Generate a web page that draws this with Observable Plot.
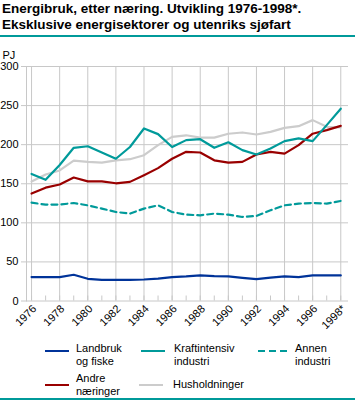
<!DOCTYPE html>
<html>
<head>
<meta charset="utf-8">
<script src="https://cdn.jsdelivr.net/npm/d3@7"></script>
<script src="https://cdn.jsdelivr.net/npm/@observablehq/plot@0.6"></script>
<style>
  html, body { margin: 0; padding: 0; background: #fff; }
  body { width: 355px; height: 403px; position: relative; overflow: hidden; font-family: "Liberation Sans", Arial, sans-serif; }
  #title { position: absolute; left: 2px; top: 1px; font-weight: bold; font-size: 13.5px; line-height: 16px; color: #000; white-space: nowrap; }
  #rule1 { position: absolute; left: 0; top: 35px; width: 355px; height: 2px; background: #009a9a; }
  #chart { position: absolute; left: 0; top: 38px; }
  #legend { position: absolute; left: 0; top: 338px; width: 355px; height: 60px; font-size: 11px; line-height: 13px; color: #000; }
  .sw { position: absolute; height: 0; width: 24px; }
  .lb { position: absolute; }
  #rule2 { position: absolute; left: 0; top: 398px; width: 355px; height: 2px; background: #009a9a; }
</style>
</head>
<body>
<div id="title"></div>
<div id="rule1"></div>
<div id="chart"></div>
<div id="legend"></div>
<div id="rule2"></div>
<script>
const titleLines = ["Energibruk, etter næring. Utvikling 1976-1998*.", "Eksklusive energisektorer og utenriks sjøfart"];
const unitLabel = "PJ";
const years = [1976,1977,1978,1979,1980,1981,1982,1983,1984,1985,1986,1987,1988,1989,1990,1991,1992,1993,1994,1995,1996,1997,1998];
const xTicks = [1976,1978,1980,1982,1984,1986,1988,1990,1992,1994,1996,1998];
const xTickLabels = ["1976","1978","1980","1982","1984","1986","1988","1990","1992","1994","1996","1998*"];
const yTicks = [0,50,100,150,200,250,300];

const seriesNames = ["Landbruk og fiske", "Kraftintensiv industri", "Annen industri", "Andre næringer", "Husholdninger"];
const landbruk = [30.6,30.6,30.6,33.6,28.4,27.1,27.1,27,27.5,28.7,30.6,31.4,32.7,31.8,31.4,29.7,28,30,31.4,30.6,32.7,32.7,32.7];
const kraftintensiv = [162.6,155,174,196,198,190,182,197,220.7,213.5,197,205.8,207,196,203,193,187.4,195,204.5,208,204.5,225,246];
const annenIndustri = [125.8,123.3,123.3,125.4,122.4,118.2,113.9,111.8,118.2,122.4,113.9,110.5,109.6,111.8,110.5,107.5,108.8,116,122.4,124.6,125.4,124.6,128];
const andreNaeringer = [137.4,145,149,158,153,153,150.6,152.4,161,170,182,190.8,190,180,177,178,187.4,190.8,188.6,199.4,214,218.6,224];
const husholdninger = [153,161.8,167,179.7,178,177,180,181.4,186.5,199.4,210,212,209,209,214,215.6,213,216.4,221.5,223.7,231.4,222.8,222];

const colors = {blue: "#003399", teal: "#009a9a", red: "#990000", gray: "#cccccc", grid: "#c8c8c8"};

document.getElementById("title").innerHTML = titleLines.join("<br>");

const mk = (vals, name) => years.map((y, i) => ({year: y, value: vals[i], series: name}));
const dLand = mk(landbruk, seriesNames[0]);
const dKraft = mk(kraftintensiv, seriesNames[1]);
const dAnnen = mk(annenIndustri, seriesNames[2]);
const dAndre = mk(andreNaeringer, seriesNames[3]);
const dHus = mk(husholdninger, seriesNames[4]);

const chart = Plot.plot({
  width: 355,
  height: 302,
  marginLeft: 26,
  marginRight: 7,
  marginTop: 28,
  marginBottom: 39.5,
  style: {fontFamily: "'Liberation Sans', Arial, sans-serif", fontSize: "11px", color: "#000", background: "transparent"},
  x: {domain: [1975.64, 1998.55], type: "linear"},
  y: {domain: [0, 300]},
  marks: [
    Plot.ruleY(yTicks, {stroke: colors.grid, strokeOpacity: 1, strokeWidth: 1}),
    Plot.ruleX(xTicks, {y1: 0, y2: 300, stroke: colors.grid, strokeOpacity: 1}),
    Plot.frame({anchor: "left", stroke: colors.grid, strokeOpacity: 1}),
    Plot.axisY({ticks: yTicks, tickSize: 5, tickPadding: 3, stroke: colors.grid, strokeOpacity: 1, label: null, fontSize: 11}),
    Plot.axisX({ticks: years, tickSize: -5, text: null, stroke: colors.grid, strokeOpacity: 1, label: null}),
    Plot.axisX({ticks: xTicks, tickSize: 0, tickPadding: 6, tickRotate: -45, dx: 3,
      tickFormat: d => xTickLabels[xTicks.indexOf(d)], label: null, fontSize: 11}),
    Plot.text([unitLabel], {frameAnchor: "top-left", dx: -24, dy: -15, textAnchor: "start", fontSize: 11}),
    Plot.line(dHus, {x: "year", y: "value", stroke: colors.gray, strokeWidth: 2.2}),
    Plot.line(dLand, {x: "year", y: "value", stroke: colors.blue, strokeWidth: 2.2}),
    Plot.line(dAnnen, {x: "year", y: "value", stroke: colors.teal, strokeWidth: 2.2, strokeDasharray: "6,4"}),
    Plot.line(dAndre, {x: "year", y: "value", stroke: colors.red, strokeWidth: 2.2}),
    Plot.line(dKraft, {x: "year", y: "value", stroke: colors.teal, strokeWidth: 2.2})
  ]
});
document.getElementById("chart").appendChild(chart);

// Legend
const legendItems = [
  {name: seriesNames[0], color: colors.blue, dash: false, swx: 45, swy: 13, tx: 76, ty: 4, w: 60},
  {name: seriesNames[1], color: colors.teal, dash: false, swx: 141, swy: 13, tx: 174, ty: 4, w: 75},
  {name: seriesNames[2], color: colors.teal, dash: true, swx: 258, swy: 13, tx: 295, ty: 4, w: 55},
  {name: seriesNames[3], color: colors.red, dash: false, swx: 45, swy: 47, tx: 76, ty: 34, w: 55},
  {name: seriesNames[4], color: colors.gray, dash: false, swx: 139, swy: 47, tx: 173, ty: 40, w: 120}
];
const leg = document.getElementById("legend");
for (const it of legendItems) {
  const sw = document.createElement("div");
  sw.className = "sw";
  sw.style.left = it.swx + "px";
  sw.style.top = (it.swy - 1) + "px";
  sw.style.width = (it.dash ? 30 : 24) + "px";
  sw.style.borderTop = it.dash ? "none" : `2px solid ${it.color}`;
  if (it.dash) {
    sw.style.height = "2px";
    sw.style.background = `repeating-linear-gradient(90deg, ${it.color} 0 7px, transparent 7px 11px)`;
  }
  leg.appendChild(sw);
  const lb = document.createElement("div");
  lb.className = "lb";
  lb.style.left = it.tx + "px";
  lb.style.top = it.ty + "px";
  lb.style.width = it.w + "px";
  lb.textContent = it.name;
  leg.appendChild(lb);
}
</script>
</body>
</html>
